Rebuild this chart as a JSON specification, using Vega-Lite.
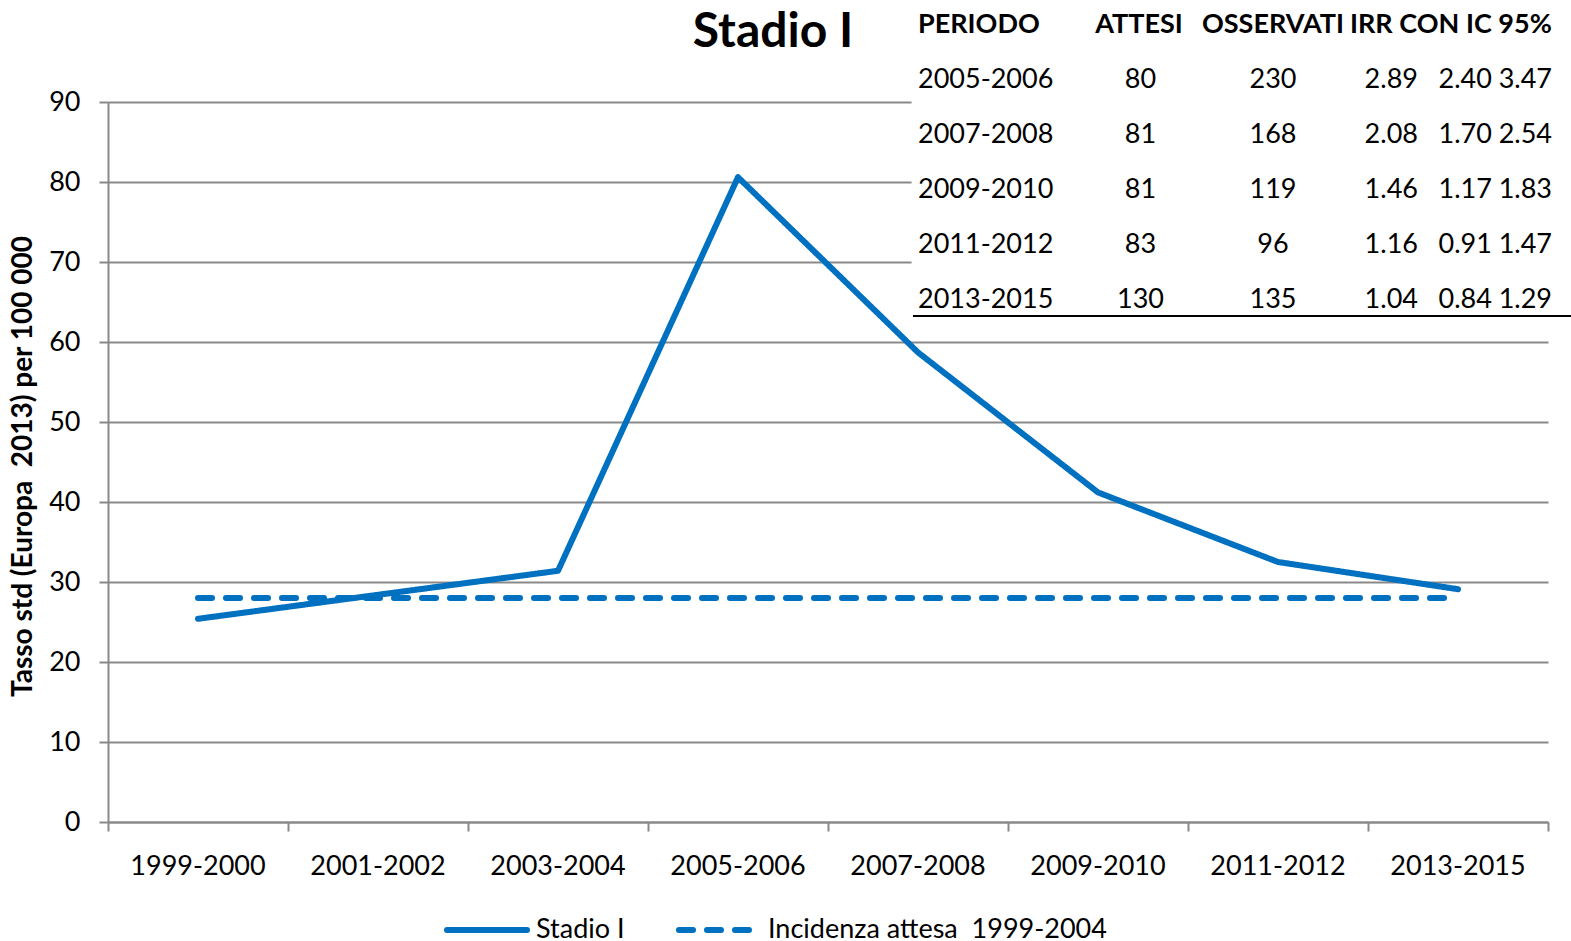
{
  "$schema": "https://vega.github.io/schema/vega-lite/v6.json",
  "width": 1440,
  "height": 720,
  "autosize": {"type": "none"},
  "padding": {"left": 108, "top": 102, "right": 23, "bottom": 119},
  "background": "white",
  "title": {
    "text": "Stadio I",
    "font": "Lato",
    "fontSize": 48,
    "fontWeight": "bold",
    "color": "#000000",
    "anchor": "middle",
    "dx": -55,
    "offset": -60
  },
  "config": {
    "font": "Lato",
    "view": {"stroke": null},
    "axis": {
      "labelFont": "Lato",
      "labelFontSize": 27,
      "labelColor": "#000000",
      "domainColor": "#898989",
      "domainWidth": 2,
      "tickColor": "#898989",
      "tickWidth": 2,
      "tickSize": 9,
      "gridColor": "#898989",
      "gridWidth": 2
    }
  },
  "datasets": {
    "series": [
      {"period": "1999-2000", "series": "Stadio I", "value": 25.4},
      {"period": "2001-2002", "series": "Stadio I", "value": 28.4},
      {"period": "2003-2004", "series": "Stadio I", "value": 31.4},
      {"period": "2005-2006", "series": "Stadio I", "value": 80.6},
      {"period": "2007-2008", "series": "Stadio I", "value": 58.7},
      {"period": "2009-2010", "series": "Stadio I", "value": 41.2},
      {"period": "2011-2012", "series": "Stadio I", "value": 32.5},
      {"period": "2013-2015", "series": "Stadio I", "value": 29.1},
      {"period": "1999-2000", "series": "Incidenza attesa\u00a0 1999-2004", "value": 28.0},
      {"period": "2001-2002", "series": "Incidenza attesa\u00a0 1999-2004", "value": 28.0},
      {"period": "2003-2004", "series": "Incidenza attesa\u00a0 1999-2004", "value": 28.0},
      {"period": "2005-2006", "series": "Incidenza attesa\u00a0 1999-2004", "value": 28.0},
      {"period": "2007-2008", "series": "Incidenza attesa\u00a0 1999-2004", "value": 28.0},
      {"period": "2009-2010", "series": "Incidenza attesa\u00a0 1999-2004", "value": 28.0},
      {"period": "2011-2012", "series": "Incidenza attesa\u00a0 1999-2004", "value": 28.0},
      {"period": "2013-2015", "series": "Incidenza attesa\u00a0 1999-2004", "value": 28.0}
    ],
    "table": [
      {"row": 0, "pos": 56.25, "kind": "hl", "text": "PERIODO"},
      {"row": 0, "pos": 71.6, "kind": "hc", "text": "ATTESI"},
      {"row": 0, "pos": 80.9, "kind": "hc", "text": "OSSERVATI"},
      {"row": 0, "pos": 86.25, "kind": "hl", "text": "IRR CON IC 95%"},
      {"row": 1, "pos": 56.25, "kind": "bl", "text": "2005-2006"},
      {"row": 1, "pos": 71.7, "kind": "bc", "text": "80"},
      {"row": 1, "pos": 80.9, "kind": "bc", "text": "230"},
      {"row": 1, "pos": 90.97, "kind": "br", "text": "2.89"},
      {"row": 1, "pos": 96.1, "kind": "br", "text": "2.40"},
      {"row": 1, "pos": 100.28, "kind": "br", "text": "3.47"},
      {"row": 2, "pos": 56.25, "kind": "bl", "text": "2007-2008"},
      {"row": 2, "pos": 71.7, "kind": "bc", "text": "81"},
      {"row": 2, "pos": 80.9, "kind": "bc", "text": "168"},
      {"row": 2, "pos": 90.97, "kind": "br", "text": "2.08"},
      {"row": 2, "pos": 96.1, "kind": "br", "text": "1.70"},
      {"row": 2, "pos": 100.28, "kind": "br", "text": "2.54"},
      {"row": 3, "pos": 56.25, "kind": "bl", "text": "2009-2010"},
      {"row": 3, "pos": 71.7, "kind": "bc", "text": "81"},
      {"row": 3, "pos": 80.9, "kind": "bc", "text": "119"},
      {"row": 3, "pos": 90.97, "kind": "br", "text": "1.46"},
      {"row": 3, "pos": 96.1, "kind": "br", "text": "1.17"},
      {"row": 3, "pos": 100.28, "kind": "br", "text": "1.83"},
      {"row": 4, "pos": 56.25, "kind": "bl", "text": "2011-2012"},
      {"row": 4, "pos": 71.7, "kind": "bc", "text": "83"},
      {"row": 4, "pos": 80.9, "kind": "bc", "text": "96"},
      {"row": 4, "pos": 90.97, "kind": "br", "text": "1.16"},
      {"row": 4, "pos": 96.1, "kind": "br", "text": "0.91"},
      {"row": 4, "pos": 100.28, "kind": "br", "text": "1.47"},
      {"row": 5, "pos": 56.25, "kind": "bl", "text": "2013-2015"},
      {"row": 5, "pos": 71.7, "kind": "bc", "text": "130"},
      {"row": 5, "pos": 80.9, "kind": "bc", "text": "135"},
      {"row": 5, "pos": 90.97, "kind": "br", "text": "1.04"},
      {"row": 5, "pos": 96.1, "kind": "br", "text": "0.84"},
      {"row": 5, "pos": 100.28, "kind": "br", "text": "1.29"}
    ],
    "tablebox": [
      {"x1": 55.8, "x2": 102, "r1": -0.5, "r2": 5.36}
    ],
    "tableline": [
      {"x1": 55.9, "x2": 101.6, "r": 5.29}
    ]
  },
  "resolve": {"scale": {"x": "independent", "y": "independent"}},
  "layer": [
    {
      "data": {"name": "series"},
      "mark": {"type": "line", "strokeWidth": 6, "strokeCap": "round", "strokeJoin": "round"},
      "encoding": {
        "x": {
          "field": "period",
          "type": "nominal",
          "sort": null,
          "scale": {"type": "band", "paddingInner": 0, "paddingOuter": 0},
          "axis": {
            "title": null,
            "labelAngle": 0,
            "bandPosition": 1,
            "tickExtra": true,
            "labelPadding": 22,
            "grid": false
          }
        },
        "y": {
          "field": "value",
          "type": "quantitative",
          "scale": {"domain": [0, 90], "nice": false},
          "axis": {
            "title": "Tasso std (Europa\u00a0 2013) per 100 000",
            "titleFont": "Lato",
            "titleFontSize": 28,
            "titleFontWeight": "bold",
            "titleColor": "#000000",
            "titlePadding": 11,
            "titleY": 364,
            "values": [0, 10, 20, 30, 40, 50, 60, 70, 80, 90],
            "labelPadding": 19,
            "grid": true
          }
        },
        "color": {
          "field": "series",
          "type": "nominal",
          "sort": null,
          "scale": {"domain": ["Stadio I", "Incidenza attesa\u00a0 1999-2004"], "range": ["#0070C0", "#0070C0"]},
          "legend": {
            "title": null,
            "orient": "none",
            "direction": "horizontal",
            "legendX": 336,
            "legendY": 785,
            "padding": 0,
            "symbolType": "stroke",
            "symbolSize": 6400,
            "symbolStrokeWidth": 6,
            "labelFont": "Lato",
            "labelFontSize": 27,
            "labelColor": "#000000",
            "labelOffset": 6,
            "columnPadding": 42,
            "labelLimit": 600,
            "encode": {"symbols": {"update": {"strokeCap": {"value": "round"}}}}
          }
        },
        "strokeDash": {
          "field": "series",
          "type": "nominal",
          "sort": null,
          "scale": {"domain": ["Stadio I", "Incidenza attesa\u00a0 1999-2004"], "range": [[1, 0], [14, 14]]},
          "legend": {
            "title": null,
            "orient": "none",
            "direction": "horizontal",
            "legendX": 336,
            "legendY": 785,
            "padding": 0,
            "symbolType": "stroke",
            "symbolSize": 6400,
            "symbolStrokeWidth": 6,
            "labelFont": "Lato",
            "labelFontSize": 27,
            "labelColor": "#000000",
            "labelOffset": 6,
            "columnPadding": 42,
            "labelLimit": 600,
            "encode": {"symbols": {"update": {"strokeCap": {"value": "round"}}}}
          }
        }
      }
    },
    {
      "data": {"name": "tablebox"},
      "mark": {"type": "rect", "fill": "white", "stroke": null},
      "encoding": {
        "x": {"field": "x1", "type": "quantitative", "scale": {"domain": [0, 100], "nice": false, "zero": false}, "axis": null},
        "x2": {"field": "x2"},
        "y": {"field": "r1", "type": "quantitative", "scale": {"domain": [1.4, 14.4909], "reverse": true, "nice": false, "zero": false}, "axis": null},
        "y2": {"field": "r2"}
      }
    },
    {
      "data": {"name": "tableline"},
      "mark": {"type": "rule", "color": "#000000", "strokeWidth": 2},
      "encoding": {
        "x": {"field": "x1", "type": "quantitative", "scale": {"domain": [0, 100], "nice": false, "zero": false}, "axis": null},
        "x2": {"field": "x2"},
        "y": {"field": "r", "type": "quantitative", "scale": {"domain": [1.4, 14.4909], "reverse": true, "nice": false, "zero": false}, "axis": null}
      }
    },
    {
      "data": {"name": "table"},
      "transform": [{"filter": "datum.kind === 'hl'"}],
      "mark": {"type": "text", "align": "left", "baseline": "middle", "font": "Lato", "fontSize": 27, "fontWeight": "bold", "color": "#000000"},
      "encoding": {
        "x": {"field": "pos", "type": "quantitative", "scale": {"domain": [0, 100], "nice": false, "zero": false}, "axis": null},
        "y": {"field": "row", "type": "quantitative", "scale": {"domain": [1.4, 14.4909], "reverse": true, "nice": false, "zero": false}, "axis": null},
        "text": {"field": "text"}
      }
    },
    {
      "data": {"name": "table"},
      "transform": [{"filter": "datum.kind === 'hc'"}],
      "mark": {"type": "text", "align": "center", "baseline": "middle", "font": "Lato", "fontSize": 27, "fontWeight": "bold", "color": "#000000"},
      "encoding": {
        "x": {"field": "pos", "type": "quantitative", "scale": {"domain": [0, 100], "nice": false, "zero": false}, "axis": null},
        "y": {"field": "row", "type": "quantitative", "scale": {"domain": [1.4, 14.4909], "reverse": true, "nice": false, "zero": false}, "axis": null},
        "text": {"field": "text"}
      }
    },
    {
      "data": {"name": "table"},
      "transform": [{"filter": "datum.kind === 'bl'"}],
      "mark": {"type": "text", "align": "left", "baseline": "middle", "font": "Lato", "fontSize": 27, "color": "#000000"},
      "encoding": {
        "x": {"field": "pos", "type": "quantitative", "scale": {"domain": [0, 100], "nice": false, "zero": false}, "axis": null},
        "y": {"field": "row", "type": "quantitative", "scale": {"domain": [1.4, 14.4909], "reverse": true, "nice": false, "zero": false}, "axis": null},
        "text": {"field": "text"}
      }
    },
    {
      "data": {"name": "table"},
      "transform": [{"filter": "datum.kind === 'bc'"}],
      "mark": {"type": "text", "align": "center", "baseline": "middle", "font": "Lato", "fontSize": 27, "color": "#000000"},
      "encoding": {
        "x": {"field": "pos", "type": "quantitative", "scale": {"domain": [0, 100], "nice": false, "zero": false}, "axis": null},
        "y": {"field": "row", "type": "quantitative", "scale": {"domain": [1.4, 14.4909], "reverse": true, "nice": false, "zero": false}, "axis": null},
        "text": {"field": "text"}
      }
    },
    {
      "data": {"name": "table"},
      "transform": [{"filter": "datum.kind === 'br'"}],
      "mark": {"type": "text", "align": "right", "baseline": "middle", "font": "Lato", "fontSize": 27, "color": "#000000"},
      "encoding": {
        "x": {"field": "pos", "type": "quantitative", "scale": {"domain": [0, 100], "nice": false, "zero": false}, "axis": null},
        "y": {"field": "row", "type": "quantitative", "scale": {"domain": [1.4, 14.4909], "reverse": true, "nice": false, "zero": false}, "axis": null},
        "text": {"field": "text"}
      }
    }
  ]
}
